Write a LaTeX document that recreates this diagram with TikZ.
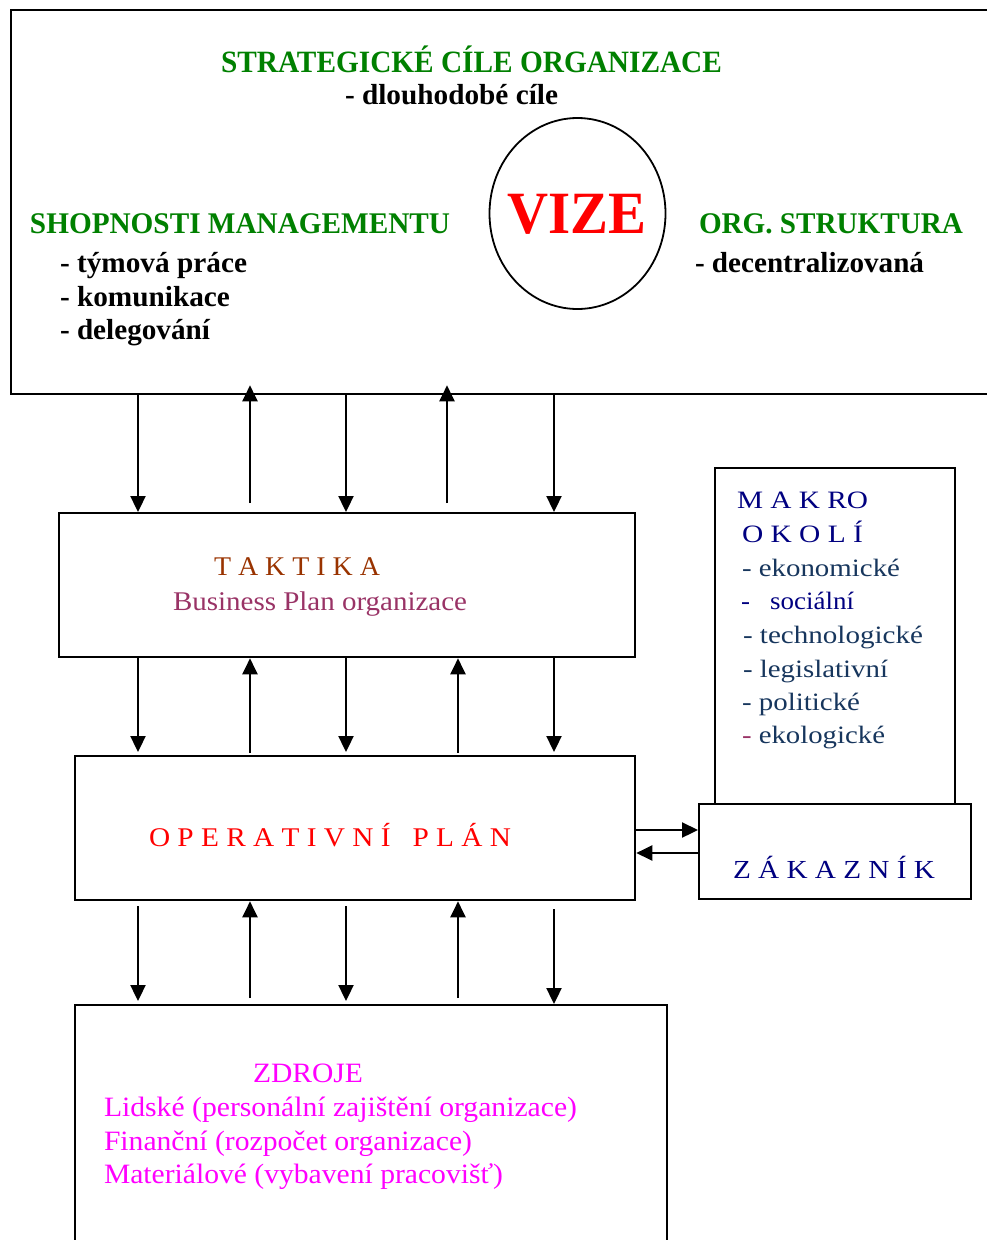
\documentclass[tikz,border=0pt]{standalone}
\usepackage{fontspec}
\setmainfont{Liberation Serif}
\usepackage{graphicx}
\usetikzlibrary{arrows.meta,shapes.geometric}

% stretch or squeeze a line of text to a given width, keeping its height
\newcommand{\fitx}[2]{\resizebox{#1}{\height}{#2}}

\definecolor{hdgreen}{RGB}{0,128,0}
\definecolor{tacbrown}{RGB}{153,51,0}
\definecolor{plumtext}{RGB}{153,51,102}
\definecolor{navytext}{RGB}{0,0,128}
\definecolor{slatetext}{RGB}{23,54,93}
\definecolor{pinktext}{RGB}{255,0,255}
\definecolor{puretred}{RGB}{255,0,0}

\begin{document}
\begin{tikzpicture}[x=1pt,y=-1pt,
  frame/.style={draw, line width=2.3pt, rectangle, inner sep=0pt, anchor=north west},
  lbl/.style={anchor=base west, inner sep=0pt, outer sep=0pt},
  flow/.style={line width=2.3pt, -{Triangle[length=16pt,width=15pt]}},
  heading/.style={lbl, text=hdgreen, font=\fontsize{31}{31}\selectfont\bfseries},
  item/.style={lbl, text=black, font=\fontsize{29}{29}\selectfont\bfseries},
  plain/.style={lbl, font=\fontsize{27}{27}\selectfont},
  macro/.style={lbl, font=\fontsize{25}{25}\selectfont}
]
\useasboundingbox (0,0) rectangle (987,1240);
\clip (0,0) rectangle (987,1240);

% ---------- boxes ----------
\node[frame, minimum width=1000pt, minimum height=384pt] (top) at (10,9) {};
\node[frame, minimum width=576pt, minimum height=144pt] (tak) at (58,512) {};
\node[frame, minimum width=560pt, minimum height=144pt] (op) at (74,755) {};
\node[frame, minimum width=592pt, minimum height=260pt] (zdr) at (74,1004) {};
\node[frame, minimum width=240pt, minimum height=336pt] (mak) at (714,467) {};
\node[frame, minimum width=272pt, minimum height=95pt] (zak) at (698,803) {};

% ---------- vision ellipse ----------
\node[draw, ellipse, line width=1.8pt, minimum width=176pt, minimum height=191pt, inner sep=0pt] (viz) at (577.5,213.5) {};

% ---------- strategic level texts ----------
\node[heading] (t1) at (221,72) {\fitx{501pt}{STRATEGICKÉ CÍLE ORGANIZACE}};
\node[item] (t2) at (345,104) {\fitx{213pt}{- dlouhodobé cíle}};
\node[lbl, text=puretred, font=\fontsize{60}{60}\selectfont\bfseries] (t3) at (507,233) {\fitx{139pt}{VIZE}};
\node[heading, font=\fontsize{30}{30}\selectfont\bfseries] (t4) at (30,233) {\fitx{420pt}{SHOPNOSTI MANAGEMENTU}};
\node[item] (t5) at (60,272) {\fitx{187pt}{- týmová práce}};
\node[item] (t6) at (60,306) {\fitx{170pt}{- komunikace}};
\node[item] (t7) at (60,339) {\fitx{150pt}{- delegování}};
\node[heading, font=\fontsize{30}{30}\selectfont\bfseries] (t8) at (699,233) {\fitx{264pt}{ORG. STRUKTURA}};
\node[item] (t9) at (695,272) {\fitx{229pt}{- decentralizovaná}};

% ---------- tactics ----------
\node[plain, text=tacbrown] (t10) at (214,575) {\fitx{166pt}{T A K T I K A}};
\node[plain, text=plumtext] (t11) at (173,610) {\fitx{294pt}{Business Plan organizace}};

% ---------- operative plan ----------
\node[plain, text=puretred] (t12) at (149,846) {\fitx{362pt}{O P E R A T I V N Í \ \ P L Á N}};

% ---------- resources ----------
\node[plain, text=pinktext, font=\fontsize{28}{28}\selectfont] (t13) at (253,1082) {\fitx{110pt}{ZDROJE}};
\node[plain, text=pinktext, font=\fontsize{28}{28}\selectfont] (t14) at (104,1116) {\fitx{473pt}{Lidské (personální zajištění organizace)}};
\node[plain, text=pinktext, font=\fontsize{28}{28}\selectfont] (t15) at (104,1150) {\fitx{368pt}{Finanční (rozpočet organizace)}};
\node[plain, text=pinktext, font=\fontsize{28}{28}\selectfont] (t16) at (104,1183) {\fitx{399pt}{Materiálové (vybavení pracovišť)}};

% ---------- macro environment ----------
\node[macro, text=navytext] (t17) at (737,508) {\fitx{131pt}{M A K RO}};
\node[macro, text=navytext] (t18) at (742,542) {\fitx{121pt}{O K O L Í}};
\node[macro, text=slatetext] (t19) at (742,576) {\fitx{158pt}{- ekonomické}};
\node[macro, text=navytext] (t20) at (741,609) {\fitx{113pt}{- \ \ sociální}};
\node[macro, text=slatetext] (t21) at (743,643) {\fitx{180pt}{- technologické}};
\node[macro, text=slatetext] (t22) at (743,677) {\fitx{145pt}{- legislativní}};
\node[macro, text=slatetext] (t23) at (742,710) {\fitx{118pt}{- politické}};
\node[macro, text=slatetext] (t24) at (742,743) {\fitx{143pt}{\textcolor{plumtext}{-} ekologické}};
\node[macro, text=navytext, font=\fontsize{26}{26}\selectfont] (t25) at (733,878) {\fitx{202pt}{Z Á K A Z N Í K}};

% ---------- connector columns ----------
\coordinate (c1) at (138,0);
\coordinate (c2) at (250,0);
\coordinate (c3) at (346,0);
\coordinate (c4) at (447,0);
\coordinate (c4b) at (458,0);
\coordinate (c5) at (554,0);
\coordinate (r1) at (0,830);
\coordinate (r2) at (0,853);

% strategy <-> tactics
\draw[flow] (top.south -| c1) -- (tak.north -| c1);
\draw[flow, shorten <=9pt, shorten >=-10pt] (tak.north -| c2) -- (top.south -| c2);
\draw[flow] (top.south -| c3) -- (tak.north -| c3);
\draw[flow, shorten <=9pt, shorten >=-10pt] (tak.north -| c4) -- (top.south -| c4);
\draw[flow] (top.south -| c5) -- (tak.north -| c5);

% tactics <-> operative plan
\draw[flow, shorten >=3pt] (tak.south -| c1) -- (op.north -| c1);
\draw[flow, shorten <=2pt] (op.north -| c2) -- (tak.south -| c2);
\draw[flow, shorten >=3pt] (tak.south -| c3) -- (op.north -| c3);
\draw[flow, shorten <=2pt] (op.north -| c4b) -- (tak.south -| c4b);
\draw[flow, shorten >=3pt] (tak.south -| c5) -- (op.north -| c5);

% operative plan <-> resources
\draw[flow, shorten <=5pt, shorten >=3pt] (op.south -| c1) -- (zdr.north -| c1);
\draw[flow, shorten <=6pt] (zdr.north -| c2) -- (op.south -| c2);
\draw[flow, shorten <=5pt, shorten >=3pt] (op.south -| c3) -- (zdr.north -| c3);
\draw[flow, shorten <=6pt] (zdr.north -| c4b) -- (op.south -| c4b);
\draw[flow, shorten <=8pt] (op.south -| c5) -- (zdr.north -| c5);

% operative plan <-> customer
\draw[flow] (op.east |- r1) -- (zak.west |- r1);
\draw[flow] (zak.west |- r2) -- (op.east |- r2);
\end{tikzpicture}
\end{document}
